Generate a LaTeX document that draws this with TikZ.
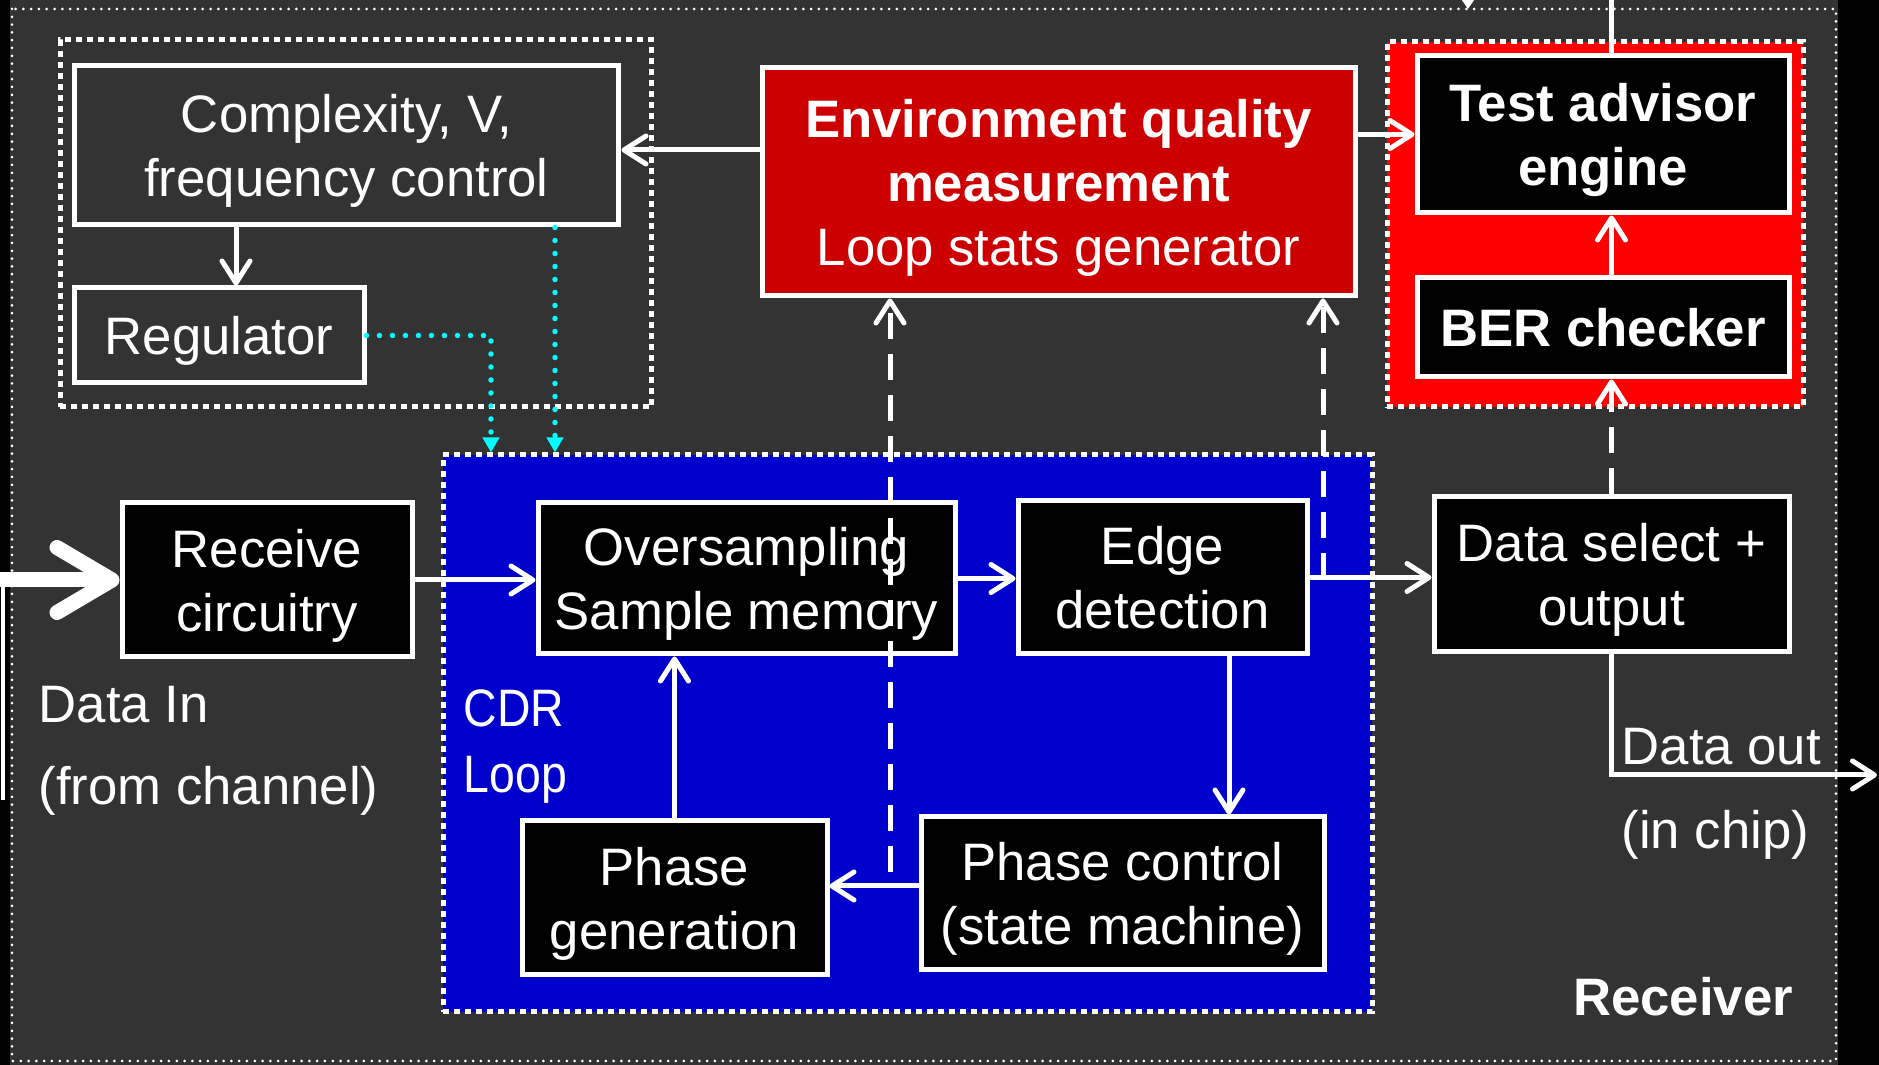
\documentclass[tikz,border=0pt]{standalone}
\usepackage{fontspec}
\setmainfont{Liberation Sans}
\newfontfamily\loopfont[FakeStretch=0.88]{Liberation Sans}
\usetikzlibrary{arrows.meta,calc,positioning}
\definecolor{Panel}{HTML}{333333}
\definecolor{EnvRed}{HTML}{CC0000}
\definecolor{AdvRed}{HTML}{FF0000}
\definecolor{LoopBlue}{HTML}{0000CC}
\definecolor{Supply}{HTML}{00FFFF}

\begin{document}
\begin{tikzpicture}[
  x=0.1mm, y=-0.1mm,
  font=\fontsize{15}{18.2}\selectfont,
  box/.style={draw=white,line width=0.5mm,fill=black,text=white,align=center,inner sep=0pt,text depth=0pt},
  ctrl/.style={box,fill=Panel},
  strong/.style={font=\fontsize{15}{18.2}\selectfont\bfseries},
  note/.style={text=white,align=left,inner sep=0pt,anchor=west},
  zone/.style={draw=white,line width=0.5mm,dash pattern=on 0.6mm off 0.5mm,inner sep=0pt},
  arr/.style={-{Straight Barb[length=2.2mm,width=2.8mm,round]},white,line width=0.5mm},
  dasharr/.style={arr,dash pattern=on 2.6mm off 1.5mm},
  supply/.style={Supply,line width=0.55mm,line cap=round,dash pattern=on 0pt off 1.3mm,
    -{Triangle[length=1.5mm,width=1.6mm]}}
]
\useasboundingbox (0,0) rectangle (1879,1065);
\fill[black] (0,0) rectangle (1879,1065);
\fill[Panel] (10,0) rectangle (1838,1065);
\draw[white,line width=0.3mm,line cap=round,dash pattern=on 0pt off 0.78mm] (12,9) rectangle (1836,1061);

% groups
\node[zone,minimum width=59.2mm,minimum height=36.7mm] (ctrlgrp) at (356,223.5) {};
\node[zone,fill=AdvRed,minimum width=41.6mm,minimum height=36.5mm] (advgrp) at (1595,224.5) {};
\node[zone,fill=LoopBlue,minimum width=92.9mm,minimum height=55.7mm] (cdr) at (907.5,733.5) {};

% blocks
\node[ctrl,minimum width=54.5mm,minimum height=15.9mm] (cplx) at (346.5,145.5) {Complexity, V,\\frequency control};
\node[ctrl,minimum width=29mm,minimum height=9.5mm] (reg) at (219,335.5) {Regulator};
\node[box,fill=EnvRed,minimum width=59.3mm,minimum height=22.8mm] (env) at (1058.5,182)
  {{\bfseries Environment quality}\\{\bfseries measurement}\\Loop stats generator};
\node[box,strong,minimum width=37.2mm,minimum height=15.7mm] (tae) at (1603,134.5) {Test advisor\\engine};
\node[box,strong,minimum width=37.2mm,minimum height=9.9mm] (ber) at (1603,327.5) {BER checker};
\node[box,minimum width=29mm,minimum height=15.4mm] (recv) at (267,580) {Receive\\circuitry};
\node[box,minimum width=41.7mm,minimum height=15.1mm] (ovs) at (746.5,578.5) {Oversampling\\Sample memory};
\node[box,minimum width=28.9mm,minimum height=15.3mm] (edge) at (1162.5,577.5) {Edge\\detection};
\node[box,minimum width=35.5mm,minimum height=15.5mm] (dsel) at (1611.5,574.5) {Data select +\\output};
\node[box,minimum width=30.5mm,minimum height=15.4mm] (pgen) at (674.5,898) {Phase\\generation};
\node[box,minimum width=40.3mm,minimum height=15.3mm] (pctl) at (1122.5,893.5) {Phase control\\(state machine)};

% labels
\node[note,font=\fontsize{15}{23.3}\selectfont] (datain) at (38,751) {Data In\\(from channel)};
\node[note,font=\fontsize{15}{23.8}\selectfont] (dataout) at (1621,794) {Data out\\(in chip)};
\node[note,font=\loopfont\fontsize{15}{18.8}\selectfont] (cdrlabel) at (463,747) {CDR\\Loop};
\node[strong,text=white,inner sep=0pt] (rxlabel) at (1683,997) {Receiver};

% channel input
\coordinate (chin) at (0,580);
\coordinate (chtop) at (3,580);
\coordinate (chbot) at (3,800);
\draw[white,line width=0.5mm] (chbot) -- (chtop);
\draw[white,line width=1.5mm,-{Straight Barb[length=5.5mm,width=6.5mm,round]}] (chin) -- (recv.west);

% data path
\draw[arr] (recv.east) -- (recv.east -| ovs.west);
\draw[arr] (ovs.east) -- (ovs.east -| edge.west);
\draw[arr] (edge.east) -- (edge.east -| dsel.west);
\draw[arr] (edge.south -| 1229,0) -- (pctl.north -| 1229,0);
\draw[arr] (pctl.west |- 0,886) -- (pgen.east |- 0,886);
\draw[arr] (pgen.north) -- (pgen.north |- ovs.south);
\coordinate (chipout) at (1877,775);
\draw[arr] (dsel.south) |- (chipout);

% control
\draw[arr] (env.west |- 0,150) -- (cplx.east |- 0,150);
\draw[arr] (env.east |- tae.west) -- (tae.west);
\draw[arr] (cplx.south -| 236,0) -- (reg.north -| 236,0);
\draw[arr] (ber.north -| dsel) -- (tae.south -| dsel);
\coordinate (toptap) at (1611.5,0);
\draw[white,line width=0.5mm] (tae.north -| dsel) -- (toptap);
\coordinate (topin) at (1468,0);
\coordinate (topend) at (1468,9);
\draw[white,line width=0.3mm,-{Triangle[length=1mm,width=1.3mm]}] (topin) -- (topend);

% supply
\draw[supply] (reg.east) -| (491,0 |- cdr.north);
\draw[supply] (cplx.south -| 555,0) -- (555,0 |- cdr.north);

% monitoring
\coordinate (tapA) at (890,872);
\coordinate (tapB) at (1323,579);
\draw[dasharr] (tapA) -- (tapA |- env.south);
\draw[dasharr] (tapB) -- (tapB |- env.south);
\draw[dasharr] (dsel.north) -- (dsel.north |- ber.south);
\end{tikzpicture}
\end{document}
